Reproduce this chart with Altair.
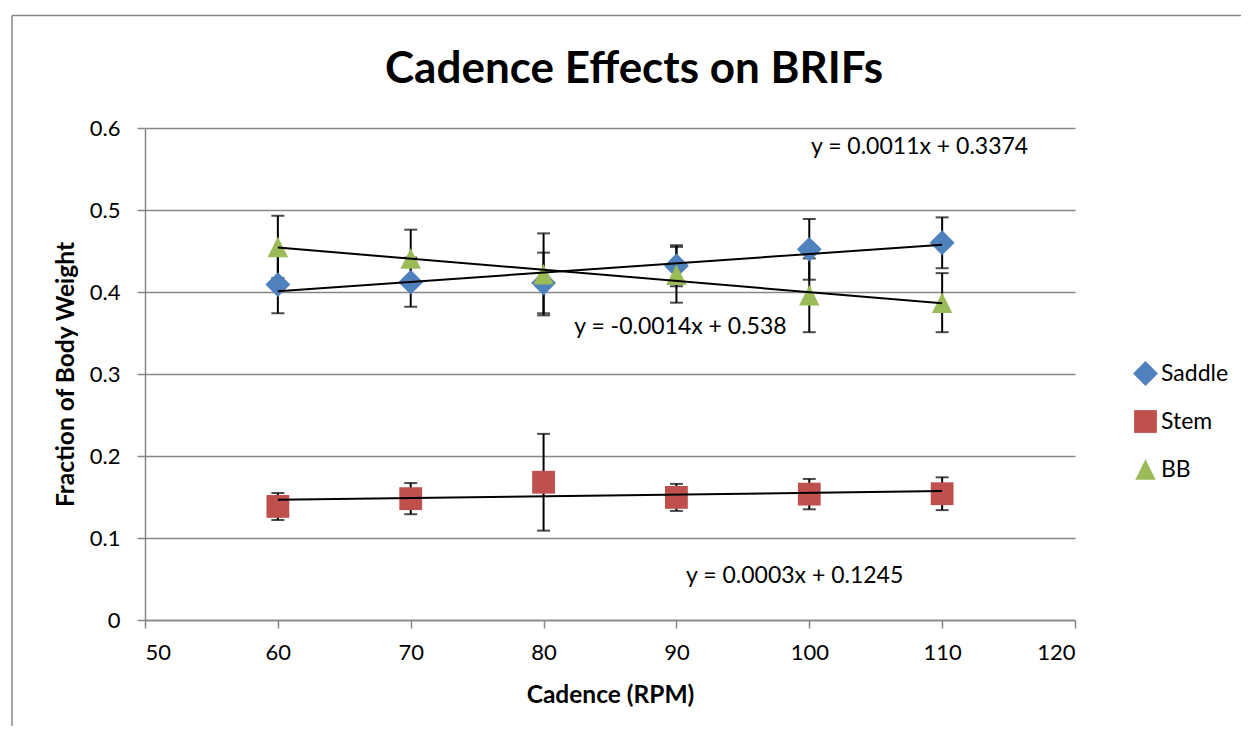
import altair as alt
import pandas as pd

# ---- data ----
cadence = [60, 70, 80, 90, 100, 110]
series_names = ["Saddle", "Stem", "BB"]
series_colors = ["#4F81BD", "#C0504D", "#9BBB59"]

saddle = [0.409, 0.412, 0.411, 0.432, 0.452, 0.460]
saddle_err = [0.035, 0.030, 0.037, 0.025, 0.037, 0.031]
stem = [0.1385, 0.148, 0.168, 0.1495, 0.1535, 0.154]
stem_err = [0.0165, 0.019, 0.059, 0.0165, 0.0185, 0.020]
bb = [0.455, 0.441, 0.4215, 0.421, 0.396, 0.387]
bb_err = [0.038, 0.035, 0.050, 0.034, 0.045, 0.036]

eq_text = ["y = 0.0011x + 0.3374", "y = 0.0003x + 0.1245", "y = -0.0014x + 0.538"]
eq_x = [108.3, 98.9, 90.3]
eq_y = [0.577, 0.0537, 0.357]

x_ticks = [50, 60, 70, 80, 90, 100, 110, 120]
y_ticks = [0, 0.1, 0.2, 0.3, 0.4, 0.5, 0.6]

rows = []
for name, vals, errs in zip(series_names, [saddle, stem, bb], [saddle_err, stem_err, bb_err]):
    for c, v, e in zip(cadence, vals, errs):
        rows.append({"series": name, "cadence": c, "value": v, "lo": v - e, "hi": v + e})
df = pd.DataFrame(rows)
eq_df = pd.DataFrame({"text": eq_text, "x": eq_x, "y": eq_y})

FONT = "Lato"
GRAY = "#878787"

xscale = alt.Scale(domain=[50, 120], nice=False, zero=False)
yscale = alt.Scale(domain=[0, 0.6], nice=False)
xaxis = alt.Axis(values=x_ticks, format="d", title="Cadence (RPM)", grid=False,
                 labelPadding=14, titlePadding=20)
yaxis = alt.Axis(values=y_ticks, format=".1~f", title="Fraction of Body Weight", grid=True,
                 labelPadding=17, titlePadding=11)

X = alt.X("cadence:Q", scale=xscale, axis=xaxis)

base = alt.Chart(df)

errbars = base.mark_errorbar(ticks=True, color="black", thickness=2, size=13).encode(
    x=X,
    y=alt.Y("lo:Q", scale=yscale, axis=yaxis),
    y2="hi:Q",
)

points = base.mark_point(filled=True, opacity=1, strokeWidth=0).encode(
    x=X,
    y=alt.Y("value:Q", scale=yscale, axis=yaxis),
    color=alt.Color("series:N", scale=alt.Scale(domain=series_names, range=series_colors),
                    legend=alt.Legend(title=None)),
    shape=alt.Shape("series:N", scale=alt.Scale(domain=series_names,
                                                 range=["diamond", "square", "M-1,1L1,1L0,-1Z"]),
                    legend=alt.Legend(title=None)),
    size=alt.Size("series:O", scale=alt.Scale(domain=series_names, range=[620, 420, 420]),
                  legend=None),
)

trends = base.transform_regression("cadence", "value", groupby=["series"]).mark_line(
    color="black", strokeWidth=2
).encode(
    x=X,
    y=alt.Y("value:Q", scale=yscale, axis=yaxis),
    detail="series:N",
)

labels = alt.Chart(eq_df).mark_text(font=FONT, fontSize=23, color="black",
                                    align="center", baseline="middle").encode(
    x=alt.X("x:Q", scale=xscale, axis=xaxis),
    y=alt.Y("y:Q", scale=yscale, axis=yaxis),
    text="text:N",
)

frame_df = pd.DataFrame({"k": [0]})
frame_top = alt.Chart(frame_df).mark_rule(color=GRAY, strokeWidth=1.5).encode(
    x=alt.value(-133), x2=alt.value(1200), y=alt.value(-112.5))
frame_left = alt.Chart(frame_df).mark_rule(color=GRAY, strokeWidth=1.5).encode(
    x=alt.value(-133), y=alt.value(-112.5), y2=alt.value(700))

chart = alt.layer(errbars, points, trends, labels, frame_top, frame_left).properties(
    width=930,
    height=492,
    autosize=alt.AutoSizeParams(type="none"),
    padding={"left": 137, "top": 120, "right": 166, "bottom": 106},
    title=alt.Title("Cadence Effects on BRIFs"),
).configure_axis(
    labelFont=FONT, labelFontSize=22, labelColor="black",
    titleFont=FONT, titleFontSize=24.5, titleFontWeight="bold", titleColor="black",
    domainColor=GRAY, tickColor=GRAY, gridColor=GRAY,
    domainWidth=1.5, tickWidth=1.5, gridWidth=1.5, tickSize=8,
).configure_view(stroke=None).configure_legend(
    orient="none", legendX=988, legendY=233, labelFont=FONT, labelFontSize=23,
    labelColor="black", symbolSize=289, rowPadding=24, labelOffset=3, padding=0,
    symbolStrokeWidth=0, symbolOpacity=1,
).configure_title(
    font=FONT, fontSize=44, fontWeight="bold", color="black", anchor="middle",
    frame="group", dx=24, offset=0, baseline="alphabetic", dy=81,
)

chart.save("out.html", embed_options={"renderer": "svg", "actions": False})
